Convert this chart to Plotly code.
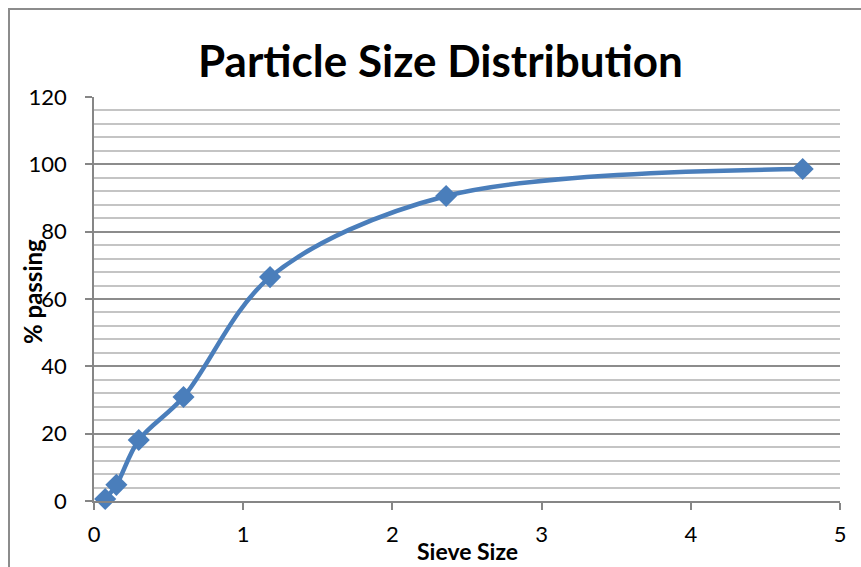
import plotly.graph_objects as go

sieve_size = [0.075, 0.15, 0.3, 0.6, 1.18, 2.36, 4.75]
pct_passing = [0.6, 4.8, 18.1, 30.9, 66.5, 90.6, 98.6]
x_ticks = [0, 1, 2, 3, 4, 5]
y_ticks = [0, 20, 40, 60, 80, 100, 120]

W, H = 861, 567
ml, mr, mt, mb = 94, 21, 97, 66
pw, ph = W - ml - mr, H - mt - mb

fig = go.Figure()
fig.add_trace(go.Scatter(
    x=sieve_size, y=pct_passing, mode="lines+markers",
    line=dict(color="#4A7EBB", width=4.5, shape="spline", smoothing=0.95),
    marker=dict(symbol="diamond", size=17, color="#4A7EBB"),
    showlegend=False, cliponaxis=False,
))

font_main = "Lato, 'Open Sans', sans-serif"
fig.update_layout(
    width=W, height=H,
    margin=dict(l=ml, r=mr, t=mt, b=mb),
    paper_bgcolor="white", plot_bgcolor="white",
    font=dict(family=font_main, color="black", size=22),
    xaxis=dict(range=[0, 5], tickvals=x_ticks, showgrid=False, zeroline=False,
               showline=True, linecolor="#868686", linewidth=1.5,
               ticks="outside", ticklen=7, tickcolor="#868686", tickwidth=1.5,
               tickfont=dict(size=22, family=font_main), ticklabelstandoff=6),
    yaxis=dict(range=[0, 120], tickvals=y_ticks, showgrid=True, gridcolor="#8C8C8C",
               gridwidth=1.5, zeroline=False,
               showline=True, linecolor="#868686", linewidth=1.5,
               ticks="outside", ticklen=7, tickcolor="#868686", tickwidth=1.5,
               tickfont=dict(size=22, family=font_main), ticklabelstandoff=14,
               minor=dict(dtick=4, showgrid=True, gridcolor="#C4C4C4", gridwidth=1.5)),
)

# chart border (Excel chart area)
fig.add_shape(type="rect", xref="paper", yref="paper",
              x0=(9 - ml) / pw, x1=(W + 20 - ml) / pw,
              y0=-(H + 20 - mt - ph) / ph, y1=1 + (mt - 9) / ph,
              line=dict(color="#8C8C8C", width=2), layer="below")

fig.add_annotation(text="<b>Particle Size Distribution</b>", xref="paper", yref="paper",
                   x=(440 - ml) / pw, y=1 + (mt - 60) / ph, showarrow=False,
                   xanchor="center", yanchor="middle", font=dict(size=44, family=font_main))
fig.add_annotation(text="<b>% passing</b>", xref="paper", yref="paper",
                   x=(32 - ml) / pw, y=1 - (292 - mt) / ph, showarrow=False, textangle=-90,
                   xanchor="center", yanchor="middle", font=dict(size=24, family=font_main))
fig.add_annotation(text="<b>Sieve Size</b>", xref="paper", yref="paper",
                   x=(467 - ml) / pw, y=-(551 - mt - ph) / ph, showarrow=False,
                   xanchor="center", yanchor="middle", font=dict(size=23, family=font_main))

fig.write_html("out.html", config={"displayModeBar": False},
               post_script="document.body.style.margin='0';document.body.style.overflow='hidden';")
